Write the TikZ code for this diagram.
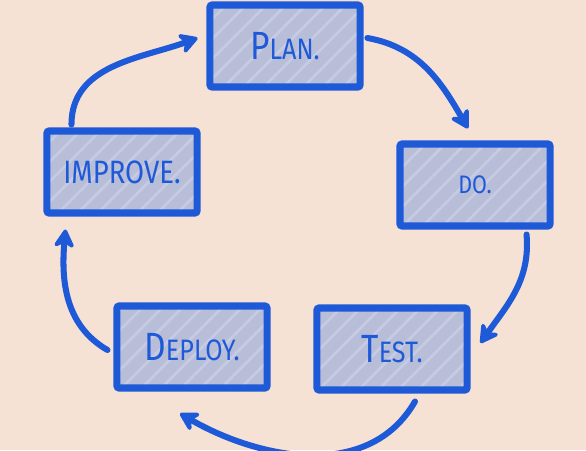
\documentclass[tikz,border=0pt]{standalone}
\usepackage{fontspec}
\setmainfont{Fira Sans}[FakeStretch=0.85]
\usetikzlibrary{arrows.meta,calc,patterns.meta}
\definecolor{peach}{HTML}{F5E2D4}
\definecolor{penblue}{HTML}{1E5AD7}
\definecolor{boxgray}{HTML}{B8BDD8}
\definecolor{hatchgray}{HTML}{C6CAE2}
\newcommand{\firstcap}[2]{{\fontsize{28}{28}\selectfont #1}{\fontsize{21}{21}\selectfont #2}}

\begin{document}
\begin{tikzpicture}[x=0.025cm,y=0.025cm,>={Stealth[round,length=16pt,width=18pt]},
  stage/.style={draw=penblue,line width=5pt,rounded corners=1.5pt,preaction={fill=boxgray},
    pattern={Lines[angle=45,distance=10pt,line width=2pt]},pattern color=hatchgray,
    minimum width=3.75cm,minimum height=2.05cm,text=penblue,font=\fontsize{23}{23}\selectfont},
  flow/.style={->,draw=penblue,line width=4.3pt,line cap=round}]
  \path[use as bounding box,clip] (0,0) rectangle (586,450);
  \fill[peach] (0,0) rectangle (586,450);
  \node[stage] (plan) at (285,404) {\firstcap{P}{LAN.}};
  \node[stage] (do) at (475,265) {\fontsize{18}{18}\selectfont DO.};
  \node[stage] (test) at (392,101) {\firstcap{T}{EST.}};
  \node[stage] (deploy) at (192,103) {\firstcap{D}{EPLOY.}};
  \node[stage] (improve) at (122,278) {IMPROVE.};
  \draw[flow] ($(plan.east)+(6,8)$) to[out=-10,in=120] ($(do.north)+(-7,12)$);
  \draw[flow] ($(do.south east)+(-27,-5)$) to[out=-85,in=55] ($(test.east)+(10,6)$);
  \draw[flow] ($(test.south)+(23,-8)$) to[out=-120,in=-30] ($(deploy.south)+(-12,-22)$);
  \draw[flow] ($(deploy.west)+(-6,-3)$) to[out=150,in=-95] ($(improve.south west)+(22,-13)$);
  \draw[flow] ($(improve.north west)+(28,3)$) to[out=90,in=200] ($(plan.west)+(-11,8)$);
\end{tikzpicture}
\end{document}
